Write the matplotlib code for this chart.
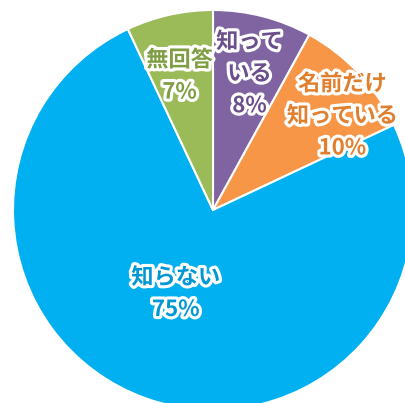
import numpy as np
import matplotlib.pyplot as plt
import matplotlib.patheffects as pe

plt.rcParams['font.family'] = ['Noto Sans CJK JP', 'DejaVu Sans']

labels = ['知って\nいる', '名前だけ\n知っている', '知らない', '無回答']
values = [8, 10, 75, 7]
colors = ['#8064A2', '#F79646', '#00B0F0', '#9BBB59']
text_colors = ['#6a4f8c', '#e07f2e', '#0098d4', '#7f9e42']
# label placement as (radius fraction, angle in degrees)
label_pos = [(0.705, 75), (0.80, 36), (0.457, 246), (0.69, 104)]

W, H = 406, 403
cx, cy, R = 213, 210, 200

fig = plt.figure(figsize=(W / 100, H / 100), dpi=100)
ax = fig.add_axes([0, 0, 1, 1])
ax.pie(values, colors=colors, startangle=90, counterclock=False, radius=1,
       wedgeprops=dict(edgecolor='white', linewidth=1.5))
ax.set_xlim(-cx / R, (W - cx) / R)
ax.set_ylim(-(H - cy) / R, cy / R)
ax.set_aspect('equal')
ax.axis('off')

for lab, v, tc, (r, a) in zip(labels, values, text_colors, label_pos):
    x = r * np.cos(np.radians(a))
    y = r * np.sin(np.radians(a))
    t = ax.text(x, y, f'{lab}\n{v}%', ha='center', va='center', fontsize=16,
                fontweight='bold', color=tc, linespacing=1.5)
    t.set_path_effects([pe.withStroke(linewidth=4.5, foreground='white')])

fig.savefig('out.png', dpi=100)
